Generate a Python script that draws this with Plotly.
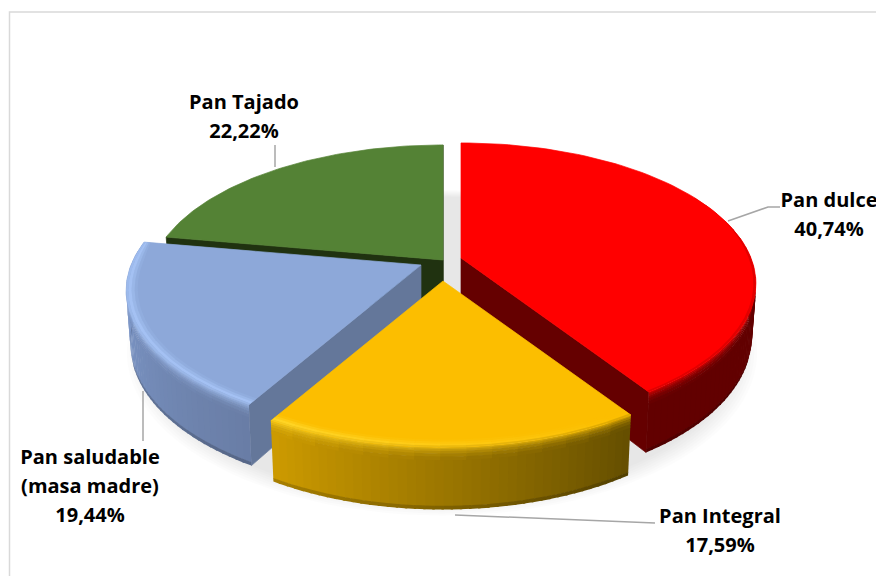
import numpy as np
import plotly.graph_objects as go

# Data
categories = ["Pan dulce", "Pan Integral", "Pan saludable (masa madre)", "Pan Tajado"]
values = [40.74, 17.59, 19.44, 22.22]
label_lines = [["Pan dulce"], ["Pan Integral"], ["Pan saludable", "(masa madre)"], ["Pan Tajado"]]

# Style / geometry of the 3-D look
face = [(255, 0, 0), (252, 190, 0), (141, 168, 217), (84, 130, 53)]
side_a = [(98, 0, 0), (100, 78, 0), (105, 125, 165), (32, 50, 16)]      # wall colour at slice start
side_b = [(98, 0, 0), (205, 155, 0), (130, 158, 210), (32, 50, 16)]     # wall colour at slice end
hi_a = [(255, 0, 0), (252, 190, 0), (165, 195, 245), (84, 130, 53)]
hi_b = [(255, 0, 0), (255, 214, 40), (165, 195, 245), (84, 130, 53)]
radial = [(101, 0, 0), (100, 78, 0), (100, 119, 154), (32, 50, 16)]
apex = [(461, 258), (443, 281), (421, 265), (443, 260)]
draw_order = [3, 2, 0, 1]
F, G, K, DEPTH = 290.0, 136.0, 0.182, 53.0


def rgb(c):
    return "rgb(%d,%d,%d)" % tuple(int(round(v)) for v in c)


def mix(a, b, t):
    return tuple(a[i] + (b[i] - a[i]) * t for i in range(3))


def pt(ap, th, r, h):
    w = 1 / (1 + K * r * np.cos(th))
    s = 1 - 0.015 * h
    return (ap[0] + F * r * np.sin(th) * w * s,
            ap[1] - G * r * np.cos(th) * w * s + DEPTH * w * h)


fig = go.Figure()


def poly(pts, col, lw=0.7):
    xs = [p[0] for p in pts] + [pts[0][0]]
    ys = [p[1] for p in pts] + [pts[0][1]]
    line = dict(color=col, width=lw)
    fig.add_trace(go.Scatter(x=xs, y=ys, mode="lines", fill="toself", fillcolor=col,
                             line=line, hoverinfo="skip", showlegend=False))


# Soft floor shadow
tt = np.linspace(0, 2 * np.pi, 121)
for sc in np.linspace(1.0, 0.94, 8):
    w = 1 / (1 + K * sc * np.cos(tt))
    xs = 442 + 310 * sc * np.sin(tt) * w
    ys = 323 - 157.6 * sc * np.cos(tt) * w
    fig.add_trace(go.Scatter(x=xs, y=ys, mode="lines", fill="toself", fillcolor="rgba(0,0,0,0.0125)",
                             line=dict(width=0), hoverinfo="skip", showlegend=False))

total = sum(values)
cum = np.concatenate([[0], np.cumsum(values)]) / total * 2 * np.pi

OUTER = [(0.0, 0.55), (0.03, 0.66), (0.06, 0.78), (0.10, 0.88), (0.15, 0.96), (0.2, 1.0)]
INNER = [(0.038, 0.0), (0.028, 0.12), (0.018, 0.26), (0.008, 0.4), (0.0, 0.55)]
OV = np.radians(0.4)


def smooth(c):
    x = np.clip((0.42 - c) / 0.42, 0, 1)
    return x * x * (3 - 2 * x)


for i in draw_order:
    a, b = cum[i], cum[i + 1]
    ap = apex[i]
    fc, ra = face[i], rgb(radial[i])

    def wall_col(th):
        return mix(side_a[i], side_b[i], (th - a) / (b - a))

    def colour(th, t):
        u = (th - a) / (b - a)
        hi = mix(hi_a[i], hi_b[i], u)
        if t <= 0.35:
            return rgb(mix(fc, hi, t / 0.35))
        return rgb(mix(hi, wall_col(th), (t - 0.35) / 0.65))

    # radial faces visible from the viewer
    if i in (0, 3):
        poly([pt(ap, b, 0, 0), pt(ap, b, 1, 0), pt(ap, b, 1, 1), pt(ap, b, 0, 1)], ra)
    if i in (2, 3):
        poly([pt(ap, a, 0, 0), pt(ap, a, 1, 0), pt(ap, a, 1, 1), pt(ap, a, 0, 1)], ra)

    has_wall = i != 3
    wall_lw = 0.6 if side_a[i] == side_b[i] else 0
    if has_wall:
        # main wall
        n = max(int(np.degrees(b - a) / 1.5), 2)
        edges = np.linspace(a, b, n + 1)
        for j in range(n):
            t0, t1 = edges[j], min(edges[j + 1] + OV, b)
            m = (t0 + t1) / 2
            if np.cos(m) > 0.45:
                continue
            col = wall_col(m)
            poly([pt(ap, t0, 1, 0.19), pt(ap, t1, 1, 0.19), pt(ap, t1, 1, 0.95), pt(ap, t0, 1, 0.95)], rgb(col), wall_lw)
            poly([pt(ap, t0, 1, 0.94), pt(ap, t1, 1, 0.94), pt(ap, t1, 1, 1), pt(ap, t0, 1, 1)],
                 rgb(mix(col, (0, 0, 0), 0.18)), 0)
        # outer part of the rounded rim
        n = max(int(np.degrees(b - a) / 4.0), 2)
        edges = np.linspace(a, b, n + 1)
        for j in range(n):
            t0, t1 = edges[j], min(edges[j + 1] + OV, b)
            m = (t0 + t1) / 2
            if np.cos(m) > 0.45:
                continue
            for k in range(len(OUTER) - 1):
                h0, c0 = OUTER[k]
                h1, c1 = OUTER[k + 1]
                poly([pt(ap, t0, 1, h0), pt(ap, t1, 1, h0), pt(ap, t1, 1, h1 + 0.01), pt(ap, t0, 1, h1 + 0.01)],
                     colour(m, (c0 + c1) / 2), 0)
    # top surface
    arc = np.linspace(a, b, 80)
    poly([pt(ap, 0, 0, 0)] + [pt(ap, t, 1, 0) for t in arc], rgb(fc))
    if has_wall:
        for j in range(n):
            t0, t1 = edges[j], min(edges[j + 1] + OV, b)
            m = (t0 + t1) / 2
            if np.cos(m) > 0.45:
                continue
            b0, b1 = smooth(np.cos(t0)), smooth(np.cos(t1))
            for k in range(len(INNER) - 1):
                d0, c0 = INNER[k]
                d1, c1 = INNER[k + 1]
                poly([pt(ap, t0, 1 - d0 * b0, 0), pt(ap, t1, 1 - d0 * b1, 0),
                      pt(ap, t1, 1 - max(d1 - 0.001, 0) * b1, 0), pt(ap, t0, 1 - max(d1 - 0.001, 0) * b0, 0)],
                     colour(m, (c0 + c1) / 2), 0)

# Leader lines
leaders_x = [[728, 768, 780], [455, 655], [143, 143], [275, 275]]
leaders_y = [[221, 207, 207], [515, 523], [391, 441], [167, 145]]
for lx, ly in zip(leaders_x, leaders_y):
    fig.add_trace(go.Scatter(x=lx, y=ly, mode="lines", line=dict(color="#a6a6a6", width=1.5),
                             hoverinfo="skip", showlegend=False))

# Labels
label_cx = [829, 720, 90, 244]
label_top = [202, 518, 459, 104]
LINE = 29
tx, ty, tt_ = [], [], []
for i, lines in enumerate(label_lines):
    pct = f"{values[i]:.2f}".replace(".", ",") + "%"
    for j, s in enumerate(lines + [pct]):
        tx.append(label_cx[i])
        ty.append(label_top[i] + j * LINE)
        tt_.append(s)
fig.add_trace(go.Scatter(x=tx, y=ty, text=tt_, mode="text", textposition="middle center", cliponaxis=False,
                         textfont=dict(family="Open Sans", size=20, color="#000000", weight="bold"),
                         hoverinfo="skip", showlegend=False))

fig.update_layout(
    width=876, height=576, margin=dict(l=0, r=0, t=0, b=0),
    paper_bgcolor="white", plot_bgcolor="white", showlegend=False,
    xaxis=dict(range=[0, 876], visible=False, fixedrange=True),
    yaxis=dict(range=[576, 0], visible=False, fixedrange=True),
    shapes=[dict(type="rect", x0=9.5, y0=12, x1=900, y1=600, line=dict(color="#d9d9d9", width=1.5), layer="below")],
)
# Remove the default page margin so the figure fills the whole window
fig.write_html("out.html", config={"displayModeBar": False},
               post_script="document.documentElement.style.overflow='hidden';document.body.style.margin='0';")
